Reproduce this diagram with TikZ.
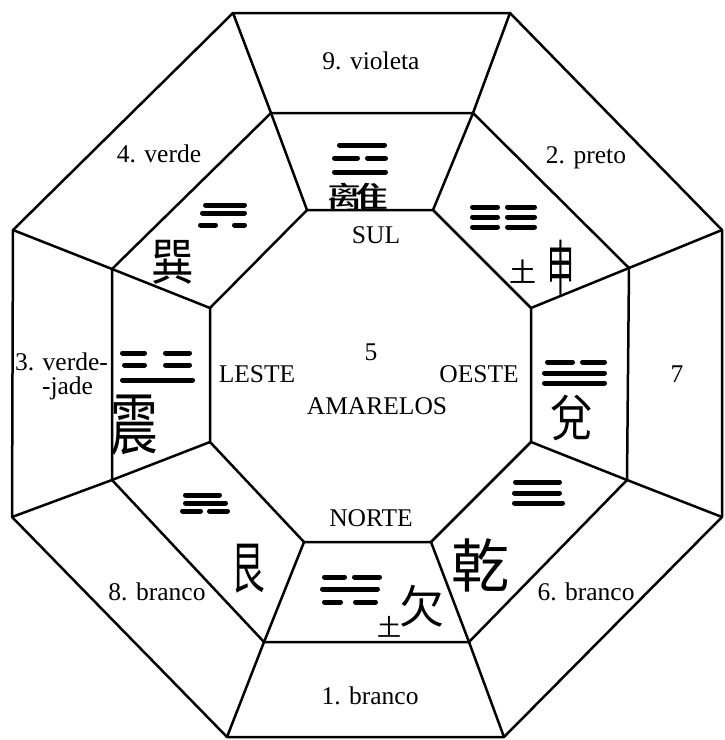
\documentclass[tikz,border=0pt]{standalone}
\usepackage{fontspec}
\setmainfont{Liberation Serif}
\newfontfamily\cjk{Noto Sans CJK TC}
\begin{document}
\begin{tikzpicture}[x=1pt,y=-1pt,
  edge/.style={line width=2.5pt, line join=round},
  bar/.style={line width=5pt, line cap=round},
  lbl/.style={font=\fontsize{25.5}{28}\selectfont, inner sep=0pt, anchor=base},
  han/.style={inner sep=0pt}]
\useasboundingbox (0,0) rectangle (724,740);
% outer octagon
\coordinate (O1) at (233,13);  \coordinate (O2) at (510,13);
\coordinate (O3) at (722,230); \coordinate (O4) at (722,517);
\coordinate (O5) at (504,737); \coordinate (O6) at (227,737);
\coordinate (O7) at (12,517);  \coordinate (O8) at (13,230);
% middle octagon
\coordinate (M1) at (271,113); \coordinate (M2) at (473,113);
\coordinate (M3) at (629,268); \coordinate (M4) at (627,480);
\coordinate (M5) at (469,642); \coordinate (M6) at (264,642);
\coordinate (M7) at (112,480); \coordinate (M8) at (112,269);
% inner octagon
\coordinate (I1) at (307,210); \coordinate (I2) at (433,210);
\coordinate (I3) at (531,308); \coordinate (I4) at (531,442);
\coordinate (I5) at (431,542); \coordinate (I6) at (304,542);
\coordinate (I7) at (210,442); \coordinate (I8) at (210,308);
\draw[edge] (O1)--(O2)--(O3)--(O4)--(O5)--(O6)--(O7)--(O8)--cycle;
\draw[edge] (M1)--(M2)--(M3)--(M4)--(M5)--(M6)--(M7)--(M8)--cycle;
\draw[edge] (I1)--(I2)--(I3)--(I4)--(I5)--(I6)--(I7)--(I8)--cycle;
\foreach \k in {1,...,8} \draw[edge] (O\k)--(M\k)--(I\k);

% outer labels
\node[lbl] (t9) at (371,69) {9. violeta};
\node[lbl] (t4) at (159,162) {4. verde};
\node[lbl] (t2) at (586,163) {2. preto};
\node[lbl] (t3a) at (61.5,370) {3. verde-};
\node[lbl] (t3b) at (67.5,394) {-jade};
\node[lbl] (t7) at (677,382) {7};
\node[lbl] (t8) at (157,600) {8. branco};
\node[lbl] (t6) at (586,600) {6. branco};
\node[lbl] (t1) at (370,704) {1. branco};
% centre labels
\node[lbl] (sul) at (376,243) {SUL};
\node[lbl] (n5) at (371,360) {5};
\node[lbl] (les) at (257,382) {LESTE};
\node[lbl] (oes) at (479,382) {OESTE};
\node[lbl] (ama) at (377,414) {AMARELOS};
\node[lbl] (nor) at (371,526) {NORTE};

% trigrams
% Li (south)
\draw[bar] (339.5,145)--(384.5,145);
\draw[bar] (334.5,158)--(357.5,158) (367.5,158)--(385.5,158);
\draw[bar] (334.5,172)--(385.5,172);
% Xun (south-east, upper left)
\draw[bar] (205.5,205)--(244.5,205);
\draw[bar] (202.5,213)--(244.5,213);
\draw[bar] (200.5,225)--(215.5,225) (234.5,225)--(244.5,225);
% Kun (upper right)
\foreach \yy in {207,217,227} {
  \draw[bar] (472.5,\yy)--(497.5,\yy) (507.5,\yy)--(534.5,\yy);
}
% Dui (right)
\draw[bar] (547.5,362)--(572.5,362) (582.5,362)--(604.5,362);
\draw[bar] (544.5,373)--(604.5,373);
\draw[bar] (544.5,383)--(604.5,383);
% Qian (lower right)
\draw[bar] (515.5,482)--(559.5,482);
\draw[bar] (514.5,493)--(559.5,493);
\draw[bar] (514.5,503)--(562.5,503);
% Kan (bottom)
\draw[bar] (324.5,577)--(344.5,577) (354.5,577)--(379.5,577);
\draw[bar] (322.5,589)--(377.5,589);
\draw[bar] (324.5,602)--(340.5,602) (355.5,602)--(375.5,602);
% Gen (lower left)
\draw[bar] (185.5,495)--(219.5,495);
\draw[bar] (185.5,503)--(225.5,503);
\draw[bar] (182.5,511)--(200.5,511) (209.5,511)--(227.5,511);
% Zhen (left)
\draw[bar] (122.5,353)--(144.5,353) (165.5,353)--(189.5,353);
\draw[bar] (124.5,365)--(144.5,365) (165.5,365)--(189.5,365);
\draw[bar] (122.5,380)--(192.5,380);

% characters
\node[han] (cli) at (358,197) {\cjk\fontsize{30}{30}\selectfont\scalebox{2.1}[1]{離}};
\node[han] (cxun) at (173,262) {\cjk\fontsize{50}{50}\selectfont\scalebox{0.85}[1]{巽}};
\node[han] (ctu1) at (523,272) {\cjk\fontsize{27}{27}\selectfont 土};
\node[han] (cshen) at (561,268) {\cjk\fontsize{30}{30}\selectfont\scalebox{0.9}[2.0]{申}};
\node[han] (cdui) at (572,418) {\cjk\fontsize{50}{50}\selectfont\scalebox{0.85}[1]{兌}};
\node[han] (cqian) at (480,565) {\cjk\fontsize{58}{58}\selectfont 乾};
\node[han] (ctu2) at (389,627) {\cjk\fontsize{24}{24}\selectfont 土};
\node[han] (cqn) at (422,606) {\cjk\fontsize{45}{45}\selectfont 欠};
\node[han] (cgen) at (248,569) {\cjk\fontsize{56}{56}\selectfont\scalebox{0.6}[1]{艮}};
\node[han] (czhen) at (134,425) {\cjk\fontsize{68}{68}\selectfont\scalebox{0.7}[1]{震}};
\end{tikzpicture}
\end{document}
